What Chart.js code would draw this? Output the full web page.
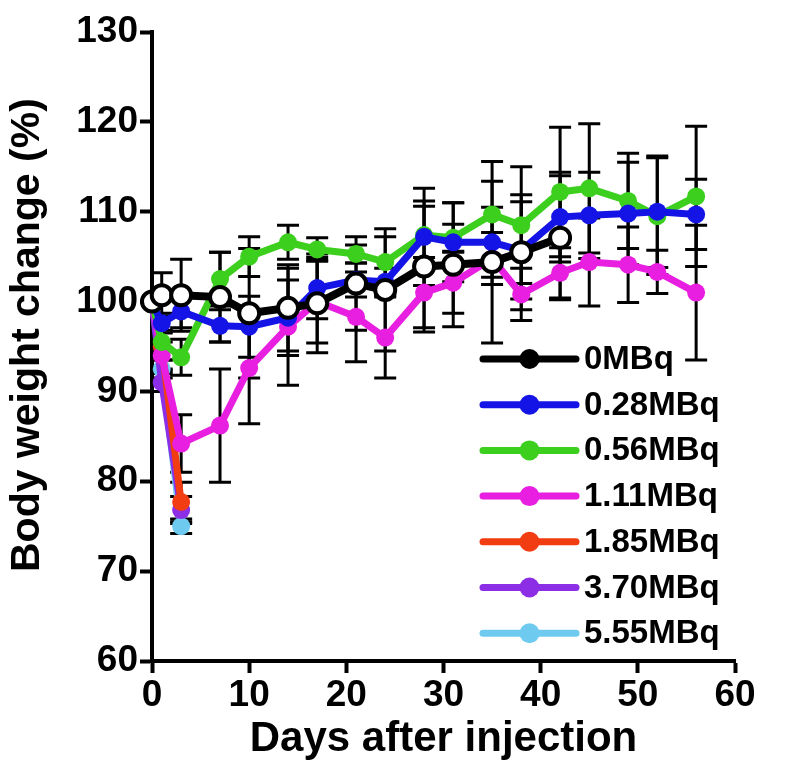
<!DOCTYPE html>
<html>
<head>
<meta charset="utf-8">
<script src="https://cdn.jsdelivr.net/npm/chart.js@4/dist/chart.umd.min.js"></script>
<style>
  html, body { margin: 0; padding: 0; background: #fff; }
</style>
</head>
<body>
<canvas id="weight-chart" width="786" height="777"></canvas>
<script>
// Body weight change after injection, one array per dose group

const labels = ['0MBq', '0.28MBq', '0.56MBq', '1.11MBq', '1.85MBq', '3.70MBq', '5.55MBq'];

const daysLong = [0, 1, 3, 7, 10, 14, 17, 21, 24, 28, 31, 35, 38, 42, 45, 49, 52, 56];
const daysCtrl = [0, 1, 3, 7, 10, 14, 17, 21, 24, 28, 31, 35, 38, 42];
const daysShort = [0, 1, 3];

const ctrlMean = [100, 100.7, 100.7, 100.5, 98.7, 99.3, 99.8, 102, 101.3, 103.9, 104.1, 104.4, 105.5, 107.1];
const ctrlErr  = [0, 2.5, 4, 5, 7.2, 4.8, 5.5, 5.2, 6.8, 7.3, 6.9, 9, 6.4, 6.9];

const d028Mean = [100, 97.6, 98.9, 97.3, 97.2, 98.2, 101.5, 102.4, 102.2, 107.2, 106.6, 106.6, 105.7, 109.4, 109.6, 109.8, 110, 109.7];
const d028Err  = [0, 0.8, 1.8, 1.8, 3.4, 4.2, 3.4, 1.9, 1.5, 5.4, 4.4, 3.9, 5.4, 5, 4.8, 5.7, 6.2, 3.9];

const d056Mean = [100, 95.5, 93.8, 102.5, 105, 106.6, 105.8, 105.3, 104.4, 107.4, 107.1, 109.7, 108.5, 112.2, 112.6, 111.2, 109.5, 111.7];
const d056Err  = [0, 3.2, 2, 3, 2.2, 1.9, 1.3, 1, 2.8, 3.2, 1.5, 5.9, 6.5, 7.2, 7.2, 5.3, 6.5, 7.8];

const d111Mean = [100, 94, 84.2, 86.2, 92.6, 97.2, 100, 98.3, 96, 101, 102.1, 104.8, 100.8, 103.2, 104.4, 104.1, 103.3, 101];
const d111Err  = [0, 1.5, 3.2, 6.3, 6.2, 6.5, 4.6, 5, 4.5, 3.9, 3.4, 2.9, 2.9, 2.8, 4.9, 4.2, 2.4, 7.5];

const d185Mean = [100, 95, 77.7];
const d185Err  = [0, 1.5, 2.2];
const d370Mean = [100, 91, 76.8];
const d370Err  = [0, 1, 1.5];
const d555Mean = [100, 92.5, 75];
const d555Err  = [0, 1, 0.8];

const colors = ['#000000', '#1414e6', '#3ccf1e', '#e81ee0', '#f23c12', '#8c2ee6', '#6ecbef'];

const FONT = "'Liberation Sans', Arial, sans-serif";

function points(days, mean, err) {
  return days.map((d, i) => ({ x: d, y: mean[i], err: err[i] }));
}

const series = [
  points(daysCtrl, ctrlMean, ctrlErr),
  points(daysLong, d028Mean, d028Err),
  points(daysLong, d056Mean, d056Err),
  points(daysLong, d111Mean, d111Err),
  points(daysShort, d185Mean, d185Err),
  points(daysShort, d370Mean, d370Err),
  points(daysShort, d555Mean, d555Err)
];

// error bars drawn under the lines, through the library scales
const errorBars = {
  id: 'errorBars',
  beforeDatasetsDraw(chart) {
    const { ctx, scales: { x, y } } = chart;
    ctx.save();
    ctx.strokeStyle = '#000';
    ctx.lineWidth = 3;
    chart.data.datasets.forEach((ds, i) => {
      if (!chart.isDatasetVisible(i)) return;
      ds.data.forEach(p => {
        if (!p.err) return;
        const px = x.getPixelForValue(p.x);
        const top = y.getPixelForValue(p.y + p.err);
        const bot = y.getPixelForValue(p.y - p.err);
        ctx.beginPath();
        ctx.moveTo(px, top); ctx.lineTo(px, bot);
        ctx.moveTo(px - 11, top); ctx.lineTo(px + 11, top);
        ctx.moveTo(px - 11, bot); ctx.lineTo(px + 11, bot);
        ctx.stroke();
      });
    });
    ctx.restore();
  }
};

// legend inside the plot, bottom right
const insideLegend = {
  id: 'insideLegend',
  afterDraw(chart, args, opts) {
    const ctx = chart.ctx;
    ctx.save();
    ctx.font = 'bold ' + opts.fontSize + 'px ' + FONT;
    ctx.textBaseline = 'middle';
    ctx.textAlign = 'left';
    chart.data.datasets.forEach((ds, i) => {
      const yy = opts.top + i * opts.rowGap;
      const c = colors[i];
      ctx.strokeStyle = c;
      ctx.lineWidth = 7;
      ctx.lineCap = 'round';
      ctx.beginPath();
      ctx.moveTo(opts.x0, yy);
      ctx.lineTo(opts.x1, yy);
      ctx.stroke();
      ctx.fillStyle = c;
      ctx.beginPath();
      ctx.arc((opts.x0 + opts.x1) / 2, yy, 10, 0, Math.PI * 2);
      ctx.fill();
      ctx.fillStyle = '#000';
      ctx.fillText(ds.label, opts.x1 + 8, yy + 1);
    });
    ctx.restore();
  }
};

const datasets = series.map((data, i) => ({
  label: labels[i],
  data: data,
  borderColor: colors[i],
  backgroundColor: colors[i],
  borderWidth: i === 0 ? 8 : 7,
  pointRadius: i === 0 ? 10 : 9,
  pointBorderWidth: i === 0 ? 4 : 0,
  pointBackgroundColor: i === 0 ? '#ffffff' : colors[i],
  pointBorderColor: colors[i],
  tension: 0,
  clip: false
}));

const axisFont = { family: FONT, size: 37, weight: 'bold' };

new Chart(document.getElementById('weight-chart'), {
  type: 'line',
  data: { datasets },
  options: {
    responsive: false,
    animation: false,
    devicePixelRatio: 1,
    layout: { padding: { top: 32, right: 51, bottom: 0, left: 0 } },
    plugins: {
      legend: { display: false },
      tooltip: { enabled: false },
      insideLegend: { x0: 483, x1: 576, top: 359, rowGap: 45.7, fontSize: 33 }
    },
    scales: {
      x: {
        type: 'linear',
        min: 0,
        max: 60,
        ticks: { stepSize: 10, color: '#000', font: axisFont, padding: 1 },
        grid: { drawOnChartArea: false, drawTicks: true, tickLength: 12, tickWidth: 4, tickColor: '#000' },
        border: { display: true, color: '#000', width: 4 },
        title: {
          display: true,
          text: 'Days after injection',
          color: '#000',
          font: { family: FONT, size: 42, weight: 'bold' },
          padding: { top: 0, bottom: 12 }
        },
        afterFit(scale) { scale.height = 116; }
      },
      y: {
        min: 60,
        max: 130,
        ticks: { stepSize: 10, color: '#000', font: axisFont, padding: 2 },
        grid: { drawOnChartArea: false, drawTicks: true, tickLength: 12, tickWidth: 4, tickColor: '#000' },
        border: { display: true, color: '#000', width: 4 },
        title: {
          display: true,
          // two leading spaces nudge the rotated title upward like the original
          text: '\u00a0\u00a0Body weight change (%)',
          color: '#000',
          font: { family: FONT, size: 41, weight: 'bold' },
          padding: { top: 3, bottom: 0 }
        },
        afterFit(scale) { scale.width = 152; }
      }
    }
  },
  plugins: [errorBars, insideLegend]
});
</script>
</body>
</html>
